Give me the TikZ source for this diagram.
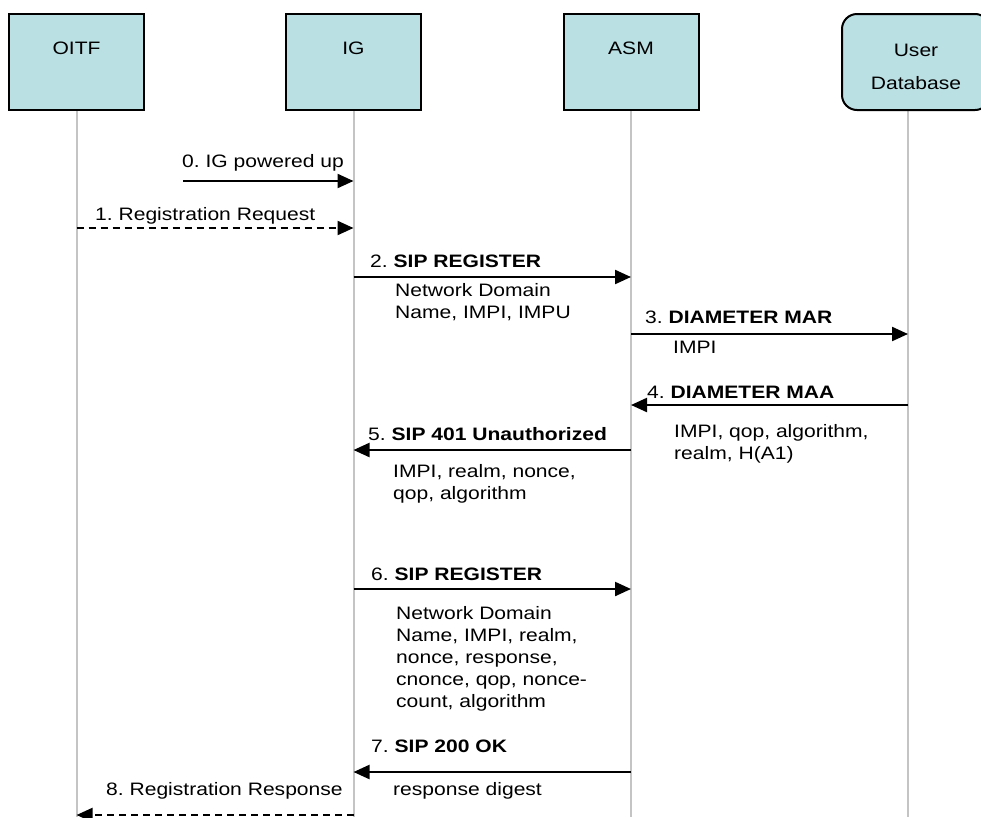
\documentclass[tikz,border=0pt]{standalone}
\usepackage{fontspec}
\setmainfont{Liberation Sans}[FakeStretch=1.17]
\frenchspacing
\usetikzlibrary{arrows.meta}
\definecolor{boxfill}{HTML}{BAE0E4}
\definecolor{lifegray}{HTML}{C4C4C4}
\tikzset{
  actor/.style={draw=black, fill=boxfill, line width=2pt, inner sep=0pt,
    minimum width=135pt, text height=40pt, text depth=56pt,
    font=\fontsize{18}{33}\selectfont},
  life/.style={draw=lifegray, line width=2pt},
  msg/.style={draw=black, line width=2.2pt, -{Triangle[length=16pt,width=14pt]}},
  back/.style={msg, dash pattern=on 7pt off 5pt},
  lab/.style={anchor=base west, inner sep=0pt, font=\fontsize{18}{22}\selectfont},
  info/.style={lab, align=left}
}
\begin{document}
\begin{tikzpicture}[x=1pt, y=-1pt]
  \useasboundingbox (0,0) rectangle (981,817);

  % lifelines
  \draw[life] (76.5,100) -- (76.5,817);
  \draw[life] (353.5,100) -- (353.5,817);
  \draw[life] (631,100) -- (631,817);
  \draw[life] (908,100) -- (908,817);

  \node[actor, anchor=north] (OITF) at (76.5,13) {OITF};
  \node[actor, anchor=north] (IG) at (353.5,13) {IG};
  \node[actor, anchor=north] (ASM) at (631,13) {ASM};
  \node[actor, anchor=north, rounded corners=15pt, minimum width=148pt,
    align=center, text height=75pt, text depth=21pt] (UDB) at (916,13) {User\\Database};
  \coordinate (UDBl) at (908,109);
  \coordinate (IGon) at (183,181);

  \draw[msg] (IGon) -- (IG |- 0,181);
  \node[lab] (m0) at (182,167) {0. IG powered up};

  \draw[back] (OITF |- 0,228) -- (IG |- 0,228);
  \node[lab] (m1) at (95,220) {1. Registration Request};

  \draw[msg] (IG |- 0,277) -- (ASM |- 0,277);
  \node[lab] (m2) at (370,267) {2. \textbf{SIP REGISTER}};
  \node[info] (m2i) at (395,318) {Network Domain\\Name, IMPI, IMPU};

  \draw[msg] (ASM |- 0,334) -- (UDBl |- 0,334);
  \node[lab] (m3) at (645,323) {3. \textbf{DIAMETER MAR}};
  \node[lab] (m3i) at (673,353) {IMPI};

  \draw[msg] (UDBl |- 0,405) -- (ASM |- 0,405);
  \node[lab] (m4) at (647,398) {4. \textbf{DIAMETER MAA}};
  \node[info] (m4i) at (674,459) {IMPI, qop, algorithm,\\realm, H(A1)};

  \draw[msg] (ASM |- 0,450) -- (IG |- 0,450);
  \node[lab] (m5) at (368,440) {5. \textbf{SIP 401 Unauthorized}};
  \node[info] (m5i) at (393,499) {IMPI, realm, nonce,\\qop, algorithm};

  \draw[msg] (IG |- 0,589) -- (ASM |- 0,589);
  \node[lab] (m6) at (371,580) {6. \textbf{SIP REGISTER}};
  \node[info] (m6i) at (396,707) {Network Domain\\Name, IMPI, realm,\\nonce, response,\\cnonce, qop, nonce-\\count, algorithm};

  \draw[msg] (ASM |- 0,772) -- (IG |- 0,772);
  \node[lab] (m7) at (371,752) {7. \textbf{SIP 200 OK}};
  \node[lab] (m7i) at (393,795) {response digest};

  \draw[back] (IG |- 0,815) -- (OITF |- 0,815);
  \node[lab] (m8) at (106,795) {8. Registration Response};
\end{tikzpicture}
\end{document}
